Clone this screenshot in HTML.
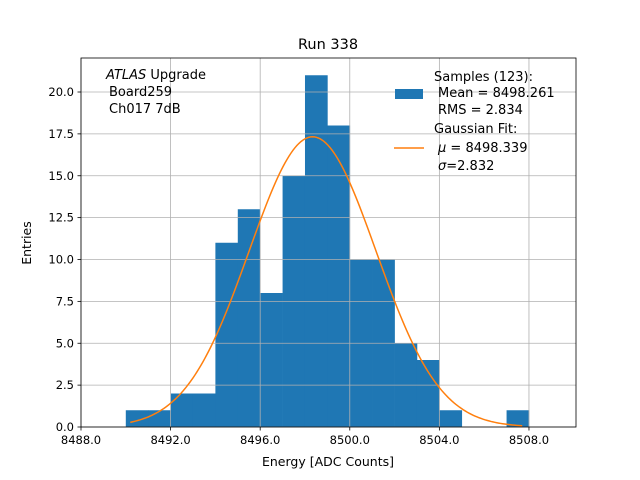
<!DOCTYPE html>
<html><head><meta charset="utf-8"><style>
body{margin:0;background:#fff;}
svg{display:block;font-family:"DejaVu Sans","Liberation Sans",sans-serif;}
</style></head><body>
<svg id="c" width="640" height="480">
<text x="328" y="49" font-size="14.5" text-anchor="middle">Run 338</text>
<g id="bars"></g>
<g id="grid"></g>
<path id="fit" fill="none" stroke="#ff7f0e" stroke-width="1.5"/>
<rect x="81" y="58" width="495" height="369" fill="none" stroke="#000" stroke-width="0.8"/>
<g id="ticks" font-size="11.5"></g>
<text x="328" y="466" font-size="12.5" text-anchor="middle">Energy [ADC Counts]</text>
<text x="31" y="243" font-size="12.5" text-anchor="middle" transform="rotate(-90 31 243)">Entries</text>
<g font-size="13">
<text x="106" y="79"><tspan font-style="italic">ATLAS</tspan> Upgrade</text>
<text x="109" y="96">Board259</text>
<text x="109" y="113">Ch017 7dB</text>
</g>
<g font-size="13">
<rect x="395" y="89" width="28" height="10" fill="#1f77b4"/>
<text x="434" y="81">Samples (123):</text>
<text x="438" y="97">Mean = 8498.261</text>
<text x="438" y="114">RMS = 2.834</text>
<line x1="394" y1="148" x2="424" y2="148" stroke="#ff7f0e" stroke-width="1.5"/>
<text x="434" y="133">Gaussian Fit:</text>
<text x="438" y="152"><tspan font-style="italic">μ</tspan> = 8498.339</text>
<text x="438" y="170"><tspan font-style="italic">σ</tspan>=2.832</text>
</g>
</svg>
<script>
const binStarts=[8490,8491,8492,8493,8494,8495,8496,8497,8498,8499,8500,8501,8502,8503,8504,8505,8506,8507];
const counts=[1,1,2,2,11,13,8,15,21,18,10,10,5,4,1,0,0,1];
const xTicks=[8488,8492,8496,8500,8504,8508];
const yTicks=[0,2.5,5,7.5,10,12.5,15,17.5,20];
const fitMu=8498.339, fitSigma=2.832, fitN=123, fitRange=[8490.2,8507.7];
const X0=8488,X1=8510.1,Y1=22.03,L=81,R=576,T=58,B=427;
const sx=v=>L+(v-X0)/(X1-X0)*(R-L);
const sy=v=>B-v/Y1*(B-T);
const NS='http://www.w3.org/2000/svg';
const mk=(t,a,p)=>{const e=document.createElementNS(NS,t);for(const k in a)e.setAttribute(k,a[k]);p.appendChild(e);return e;};
const bars=document.getElementById('bars'),grid=document.getElementById('grid'),ticks=document.getElementById('ticks');
binStarts.forEach((b,i)=>{if(!counts[i])return;
const r=mk('rect',{x:sx(b),y:sy(counts[i]),width:sx(b+1)-sx(b)+0.3,height:B-sy(counts[i]),fill:'#1f77b4'},bars);

});
xTicks.forEach(v=>{const x=sx(v);
const g=mk('line',{x1:x,x2:x,y1:T,y2:B,stroke:'#b0b0b0','stroke-width':0.8},grid);


mk('line',{x1:x,x2:x,y1:B,y2:B+3.5,stroke:'#000','stroke-width':0.8},ticks);
const t=mk('text',{x:x,y:B+17,'text-anchor':'middle'},ticks);t.textContent=v.toFixed(1);

});
yTicks.forEach(v=>{const y=sy(v);
const g=mk('line',{x1:L,x2:R,y1:y,y2:y,stroke:'#b0b0b0','stroke-width':0.8},grid);


mk('line',{x1:L-3.5,x2:L,y1:y,y2:y,stroke:'#000','stroke-width':0.8},ticks);
const t=mk('text',{x:L-7,y:y+4,'text-anchor':'end'},ticks);t.textContent=v.toFixed(1);

});
let d='';const n=200;
for(let i=0;i<=n;i++){const v=fitRange[0]+(fitRange[1]-fitRange[0])*i/n;
const f=fitN/(Math.sqrt(2*Math.PI)*fitSigma)*Math.exp(-0.5*((v-fitMu)/fitSigma)**2);
d+=(i?'L':'M')+sx(v).toFixed(2)+','+sy(f).toFixed(2);}
document.getElementById('fit').setAttribute('d',d);
</script>
</body></html>
